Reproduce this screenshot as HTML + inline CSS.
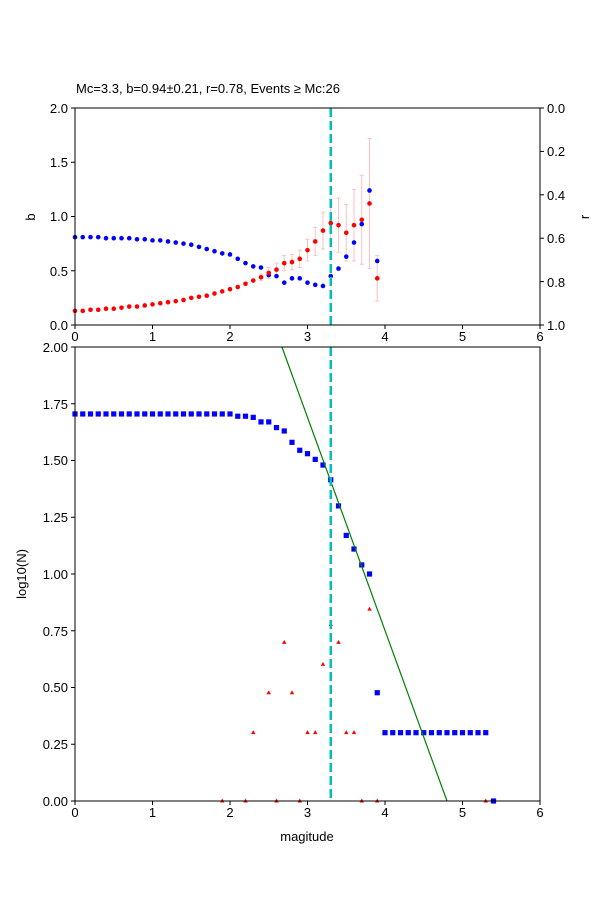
<!DOCTYPE html>
<html><head><meta charset="utf-8"><style>body{margin:0;background:#fff}svg{display:block}text{font-family:"Liberation Sans","DejaVu Sans",sans-serif;font-size:13px;fill:#000}</style></head>
<body>
<svg id="s" width="600" height="900" xmlns="http://www.w3.org/2000/svg">
<rect width="600" height="900" fill="#fff"/>
<text x="76" y="93">Mc=3.3, b=0.94±0.21, r=0.78, Events ≥ Mc:26</text>
<g id="top"></g><g id="bot"></g>
<!-- top axes -->
<rect x="75" y="108" width="465" height="217" fill="none" stroke="#000" stroke-width="1"/>
<g text-anchor="middle">
<text x="75" y="341">0</text><text x="152.5" y="341">1</text><text x="230" y="341">2</text><text x="307.5" y="341">3</text><text x="385" y="341">4</text><text x="462.5" y="341">5</text><text x="540" y="341">6</text>
<text x="75" y="817">0</text><text x="152.5" y="817">1</text><text x="230" y="817">2</text><text x="307.5" y="817">3</text><text x="385" y="817">4</text><text x="462.5" y="817">5</text><text x="540" y="817">6</text>
<text x="307" y="841">magitude</text>
</g>
<g text-anchor="end">
<text x="68" y="330">0.0</text><text x="68" y="276">0.5</text><text x="68" y="221">1.0</text><text x="68" y="167">1.5</text><text x="68" y="113">2.0</text>
<text x="68" y="806">0.00</text><text x="68" y="749">0.25</text><text x="68" y="692">0.50</text><text x="68" y="636">0.75</text><text x="68" y="579">1.00</text><text x="68" y="522">1.25</text><text x="68" y="465">1.50</text><text x="68" y="409">1.75</text><text x="68" y="352">2.00</text>
</g>
<g text-anchor="start">
<text x="547" y="113">0.0</text><text x="547" y="156">0.2</text><text x="547" y="200">0.4</text><text x="547" y="243">0.6</text><text x="547" y="287">0.8</text><text x="547" y="330">1.0</text>
</g>
<text transform="translate(35,217) rotate(-90)" text-anchor="middle">b</text>
<text transform="translate(589,217) rotate(-90)" text-anchor="middle">r</text>
<text transform="translate(26,574) rotate(-90)" text-anchor="middle">log10(N)</text>
<rect x="75" y="347" width="465" height="454" fill="none" stroke="#000" stroke-width="1"/>
<g id="ticks" stroke="#000"></g>
</svg>
<script>
const NS="http://www.w3.org/2000/svg";
function el(p,t,a){const e=document.createElementNS(NS,t);for(const k in a)e.setAttribute(k,a[k]);document.getElementById(p).appendChild(e);return e;}
const X=v=>75+v*77.5, YT=v=>325-v*108.5, YB=v=>801-v*227;
// ticks
for(let i=0;i<=6;i++){el('ticks','line',{x1:X(i),x2:X(i),y1:325,y2:329});el('ticks','line',{x1:X(i),x2:X(i),y1:801,y2:805});}
for(let i=0;i<=4;i++){el('ticks','line',{x1:71,x2:75,y1:YT(i*0.5),y2:YT(i*0.5)});}
for(let i=0;i<=5;i++){let y=108+i*43.4;el('ticks','line',{x1:540,x2:544,y1:y,y2:y});}
for(let i=0;i<=8;i++){el('ticks','line',{x1:71,x2:75,y1:YB(i*0.25),y2:YB(i*0.25)});}
const blue=[0.81,0.81,0.81,0.81,0.80,0.80,0.80,0.80,0.79,0.79,0.78,0.78,0.77,0.76,0.75,0.74,0.72,0.70,0.68,0.66,0.65,0.61,0.57,0.54,0.53,0.46,0.45,0.39,0.43,0.43,0.39,0.37,0.36,0.45,0.52,0.63,0.76,0.93,1.24,0.59];
const red=[0.13,0.13,0.14,0.14,0.15,0.15,0.16,0.17,0.17,0.18,0.19,0.20,0.21,0.22,0.23,0.25,0.26,0.27,0.29,0.31,0.33,0.35,0.38,0.41,0.44,0.48,0.51,0.57,0.58,0.61,0.69,0.77,0.87,0.94,0.92,0.85,0.92,0.97,1.12,0.43];
const err={24:0.03,25:0.05,26:0.06,27:0.07,28:0.07,29:0.08,30:0.1,31:0.13,32:0.17,33:0.22,34:0.25,35:0.26,36:0.33,37:0.41,38:0.6,39:0.21};
for(const k in err){const x=X(k/10),r=red[k],e=err[k];el('top','line',{x1:x,x2:x,y1:YT(r-e),y2:YT(r+e),stroke:'#ffc0c0','stroke-width':1});
el('top','line',{x1:x-2,x2:x+2,y1:YT(r-e),y2:YT(r-e),stroke:'#ffc0c0'});el('top','line',{x1:x-2,x2:x+2,y1:YT(r+e),y2:YT(r+e),stroke:'#ffc0c0'});}
blue.forEach((v,i)=>el('top','circle',{cx:X(i/10),cy:YT(v),r:2.3,fill:'#0000ff'}));
red.forEach((v,i)=>el('top','circle',{cx:X(i/10),cy:YT(v),r:2.3,fill:'#ff0000'}));
el('top','line',{x1:X(3.3),x2:X(3.3),y1:108,y2:325,stroke:'#00bfbf','stroke-width':2.5,'stroke-dasharray':'9,4'});
// bottom
const sq=[];for(let i=0;i<=20;i++)sq.push([i/10,1.705]);
[[2.1,1.695],[2.2,1.695],[2.3,1.69],[2.4,1.67],[2.5,1.67],[2.6,1.645],[2.7,1.63],[2.8,1.58],[2.9,1.545],[3.0,1.53],[3.1,1.505],[3.2,1.48],[3.3,1.415],[3.4,1.30],[3.5,1.17],[3.6,1.11],[3.7,1.04],[3.8,1.0],[3.9,0.477]].forEach(p=>sq.push(p));
for(let i=40;i<=53;i++)sq.push([i/10,0.301]);sq.push([5.4,0]);
sq.forEach(p=>el('bot','rect',{x:X(p[0])-2.6,y:YB(p[1])-2.6,width:5.2,height:5.2,fill:'#0000ff'}));
[[1.9,0],[2.2,0],[2.3,0.301],[2.5,0.477],[2.6,0],[2.7,0.699],[2.8,0.477],[2.9,0],[3.0,0.301],[3.1,0.301],[3.2,0.602],[3.3,0.778],[3.4,0.699],[3.5,0.301],[3.6,0.301],[3.7,0],[3.8,0.845],[3.9,0],[5.3,0]].forEach(p=>{const x=X(p[0]),y=YB(p[1]);el('bot','polygon',{points:`${x},${y-2.5} ${x-2.2},${y+1.5} ${x+2.2},${y+1.5}`,fill:'#ff0000'});});
el('bot','line',{x1:X(2.67),y1:YB(2),x2:X(4.8),y2:YB(0),stroke:'#008000','stroke-width':1.2});
el('bot','line',{x1:X(3.3),x2:X(3.3),y1:347,y2:801,stroke:'#00bfbf','stroke-width':2.5,'stroke-dasharray':'9,4'});
</script>
</body></html>
